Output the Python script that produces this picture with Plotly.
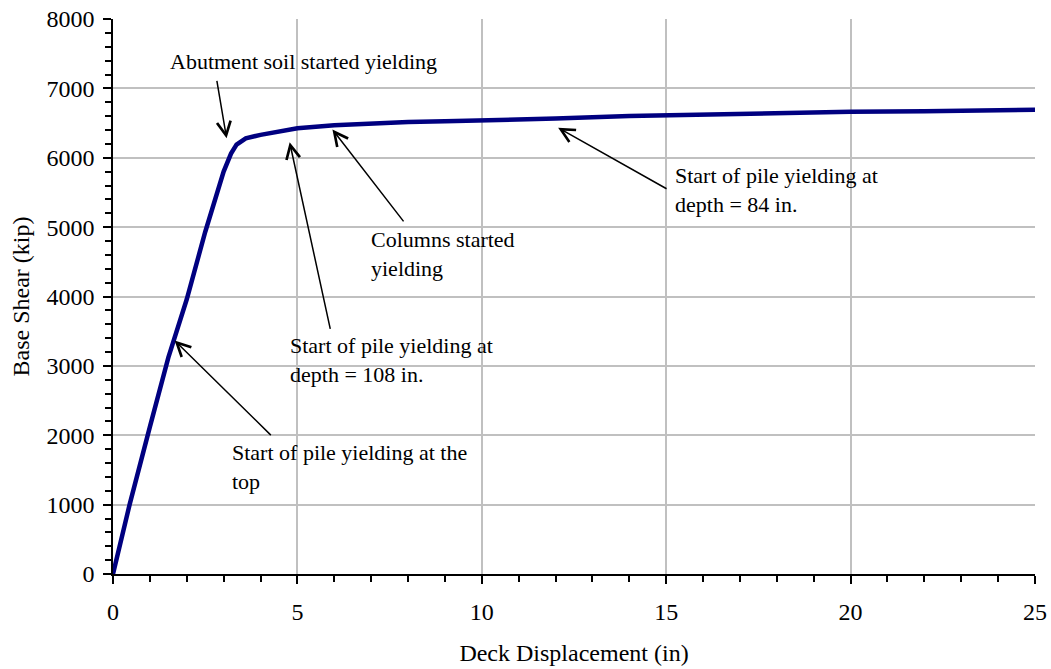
import plotly.graph_objects as go

# Pushover curve data (Deck Displacement in, Base Shear kip)
displacement = [0, 0.2, 0.45, 1.0, 1.5, 2.0, 2.5, 3.0, 3.2, 3.35, 3.6, 4.0, 5.0, 6.0, 7.0, 8.0,
                9.0, 10, 12, 14, 16, 18, 20, 22, 25]
base_shear = [0, 470, 1000, 2120, 3120, 3960, 4930, 5800, 6060, 6190, 6280, 6330, 6425, 6470,
              6495, 6515, 6525, 6535, 6565, 6600, 6625, 6645, 6662, 6672, 6692]

# Annotation texts and positions
label_texts = ["Abutment soil started yielding",
               "Columns started<br>yielding",
               "Start of pile yielding at<br>depth = 108 in.",
               "Start of pile yielding at<br>depth = 84 in.",
               "Start of pile yielding at the<br>top"]
label_x = [1.52, 6.96, 4.77, 15.21, 3.19]
label_y = [7382, 4618, 3084, 5540, 1545]

# Arrow heads (on curve) and tails
head_x = [3.08, 5.95, 4.79, 12.07, 1.67]
head_y = [6280, 6407, 6224, 6432, 3367]
tail_x = [2.81, 7.91, 5.90, 15.05, 4.32]
tail_y = [7131, 5061, 3511, 5541, 1981]

FONT = "Liberation Serif, Times New Roman, serif"

fig = go.Figure()
fig.add_trace(go.Scatter(x=displacement, y=base_shear, mode="lines",
                         line=dict(color="#000080", width=4.5), showlegend=False,
                         hoverinfo="skip"))

annotations = []
for t, x, y in zip(label_texts, label_x, label_y):
    annotations.append(dict(x=x, y=y, xref="x", yref="y", text=t, showarrow=False,
                            xanchor="left", yanchor="middle", align="left", borderpad=0,
                            font=dict(family=FONT, size=22, color="black")))
for hx, hy, tx, ty in zip(head_x, head_y, tail_x, tail_y):
    annotations.append(dict(x=hx, y=hy, xref="x", yref="y", ax=tx, ay=ty, axref="x", ayref="y",
                            text="", showarrow=True, arrowhead=5, arrowsize=1.8,
                            arrowwidth=1.5, arrowcolor="black", standoff=0))

fig.update_layout(
    width=1051, height=669,
    margin=dict(l=113, r=16, t=19, b=95, autoexpand=False),
    paper_bgcolor="white", plot_bgcolor="white",
    font=dict(family=FONT, size=24, color="black"),
    annotations=annotations,
    xaxis=dict(range=[0, 25], tickvals=[0, 5, 10, 15, 20, 25], ticks="outside", ticklen=8,
               tickwidth=1.5, tickcolor="black", showline=True, linecolor="black", linewidth=1.5,
               showgrid=True, gridcolor="#c0c0c0", gridwidth=1.5, zeroline=False, automargin=False,
               ticklabeloverflow="allow",
               minor=dict(dtick=1, ticks="outside", ticklen=6, tickcolor="black", tickwidth=1.5,
                          showgrid=False),
               title=dict(text="Deck Displacement (in)", font=dict(size=24), standoff=21),
               ticklabelstandoff=7),
    yaxis=dict(range=[0, 8000], tickvals=[0, 1000, 2000, 3000, 4000, 5000, 6000, 7000, 8000],
               ticks="outside", ticklen=8, tickwidth=1.5, tickcolor="black", showline=True,
               linecolor="black", linewidth=1.5, showgrid=True, gridcolor="#c0c0c0", gridwidth=1.5,
               zeroline=False, automargin=False, ticklabeloverflow="allow",
               minor=dict(dtick=200, ticks="outside", ticklen=6, tickcolor="black", tickwidth=1.5,
                          showgrid=False),
               title=dict(text="Base Shear (kip)", font=dict(size=24), standoff=10),
               ticklabelstandoff=4),
)

# remove the default 8px page margin so the figure fills the window exactly
fig.write_html("out.html", config={"displayModeBar": False},
               post_script="document.body.style.margin='0px';")
